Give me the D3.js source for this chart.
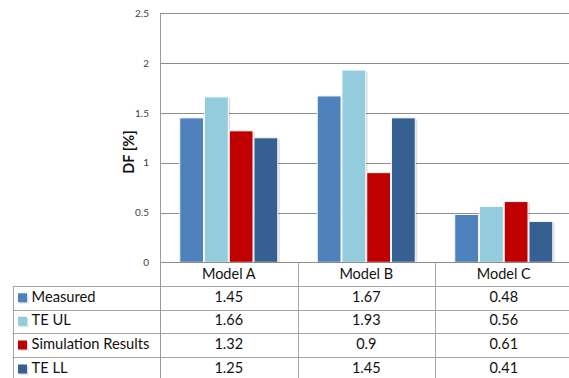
<!DOCTYPE html>
<html>
<head>
<meta charset="utf-8">
<script src="https://cdn.jsdelivr.net/npm/d3@7/dist/d3.min.js"></script>
<style>
  html, body { margin: 0; padding: 0; background: #fff; }
  svg { display: block; font-family: Lato, "Open Sans", sans-serif; }
</style>
</head>
<body>
<svg id="chart" width="569" height="378"></svg>
<script>
// Data: DF [%] per model
const categories = ["Model A", "Model B", "Model C"];
const seriesNames = ["Measured", "TE UL", "Simulation Results", "TE LL"];
const measured = [1.45, 1.67, 0.48];
const teUL = [1.66, 1.93, 0.56];
const simulation = [1.32, 0.9, 0.61];
const teLL = [1.25, 1.45, 0.41];
const yTicks = [0, 0.5, 1, 1.5, 2, 2.5];
const seriesColors = ["#4F81BD", "#93CDDD", "#C00000", "#376092"];

const seriesValues = [measured, teUL, simulation, teLL];
const rows = seriesNames.map((name, i) => ({ name, color: seriesColors[i], values: seriesValues[i] }));

const svg = d3.select("#chart");
const W = 569, H = 378;
const plotLeft = 160, plotRight = 572.5, plotTop = 13.3, plotBottom = 262.3;
const tableLeft = 12.7;
const rowLines = [286, 309.5, 333, 357, 381];

const x = d3.scaleBand().domain(categories).range([plotLeft, plotRight]);
const y = d3.scaleLinear().domain([0, 2.5]).range([plotBottom, plotTop]);

const groupW = x.bandwidth() * 0.72;
const xs = d3.scaleBand().domain(seriesNames).range([0, groupW]);

// horizontal gridlines
svg.append("g").selectAll("line").data(yTicks).join("line")
  .attr("x1", plotLeft).attr("x2", W)
  .attr("y1", d => Math.round(y(d)) + 0.5).attr("y2", d => Math.round(y(d)) + 0.5)
  .attr("stroke", "#8c8c8c").attr("stroke-width", 1);

// y tick labels
const yAxis = d3.axisLeft(y).tickValues(yTicks).tickSize(0).tickPadding(11).tickFormat(d3.format("~g"));
const gy = svg.append("g").attr("transform", `translate(${plotLeft},0)`).call(yAxis);
gy.select(".domain").remove();
gy.selectAll("text").attr("font-size", 10).attr("fill", "#404040")
  .attr("font-family", "Lato, sans-serif");

// axis title
svg.append("text")
  .attr("transform", `translate(130,152) rotate(-90)`)
  .attr("text-anchor", "middle").attr("dominant-baseline", "middle")
  .attr("font-size", 14.5).attr("font-weight", "bold").attr("fill", "#111")
  .text("DF [%]");

// bars
const groups = svg.append("g").selectAll("g").data(categories).join("g")
  .attr("transform", d => `translate(${x(d) + (x.bandwidth() - groupW) / 2},0)`);

groups.each(function (cat, ci) {
  const g = d3.select(this);
  const data = rows.map(r => ({ name: r.name, color: r.color, v: r.values[ci] }));
  // soft shadow on the right of each bar
  g.selectAll("rect.shadow").data(data).join("rect").attr("class", "shadow")
    .attr("x", d => xs(d.name) + 1.5).attr("y", d => y(d.v) + 1.5)
    .attr("width", xs.bandwidth()).attr("height", d => y(0) - y(d.v) - 1.5)
    .attr("fill", "#000").attr("opacity", 0.12);
  g.selectAll("rect.bar").data(data).join("rect").attr("class", "bar")
    .attr("x", d => xs(d.name) + 0.5).attr("y", d => y(d.v))
    .attr("width", xs.bandwidth() - 1).attr("height", d => y(0) - y(d.v))
    .attr("fill", d => d.color).attr("stroke", "#f4f7fb").attr("stroke-width", 1);
});

// data table lines
const tl = svg.append("g").attr("stroke", "#a6a6a6").attr("stroke-width", 1);
tl.append("line").attr("x1", plotLeft).attr("x2", W).attr("y1", Math.round(plotBottom) + 0.5).attr("y2", Math.round(plotBottom) + 0.5).attr("stroke", "#8c8c8c");
rowLines.slice(0, 4).forEach(yy => {
  tl.append("line").attr("x1", tableLeft).attr("x2", W).attr("y1", Math.round(yy) + 0.5).attr("y2", Math.round(yy) + 0.5);
});
// y axis line continuing as first column divider
tl.append("line").attr("x1", plotLeft + 0.5).attr("x2", plotLeft + 0.5).attr("y1", plotTop).attr("y2", H).attr("stroke", "#9a9a9a");
categories.slice(1).forEach(c => {
  const xx = Math.round(x(c)) + 0.5;
  tl.append("line").attr("x1", xx).attr("x2", xx).attr("y1", plotBottom).attr("y2", H);
});
tl.append("line").attr("x1", Math.round(tableLeft) + 0.5).attr("x2", Math.round(tableLeft) + 0.5).attr("y1", rowLines[0]).attr("y2", H);

// header row: category names
svg.append("g").selectAll("text").data(categories).join("text")
  .attr("x", d => x(d) + x.bandwidth() / 2).attr("y", (plotBottom + rowLines[0]) / 2 + 1)
  .attr("text-anchor", "middle").attr("dominant-baseline", "middle")
  .attr("font-size", 14.5).attr("fill", "#111").text(d => d);

// table rows: legend key, name, values
rows.forEach((r, i) => {
  const cy = (rowLines[i] + rowLines[i + 1]) / 2 + 0.5;
  svg.append("rect").attr("x", 19.5).attr("y", cy - 3.5).attr("width", 9).attr("height", 9)
    .attr("fill", "#000").attr("opacity", 0.12);
  svg.append("rect").attr("x", 18).attr("y", cy - 5).attr("width", 9).attr("height", 9)
    .attr("fill", r.color);
  svg.append("text").attr("x", 31.5).attr("y", cy)
    .attr("dominant-baseline", "middle").attr("font-size", 14.7).attr("fill", "#111")
    .text(r.name);
  svg.append("g").selectAll("text").data(r.values).join("text")
    .attr("x", (d, ci) => x(categories[ci]) + x.bandwidth() / 2).attr("y", cy)
    .attr("text-anchor", "middle").attr("dominant-baseline", "middle")
    .attr("font-size", 14.5).attr("fill", "#111")
    .text(d => d3.format("~g")(d));
});
</script>
</body>
</html>
